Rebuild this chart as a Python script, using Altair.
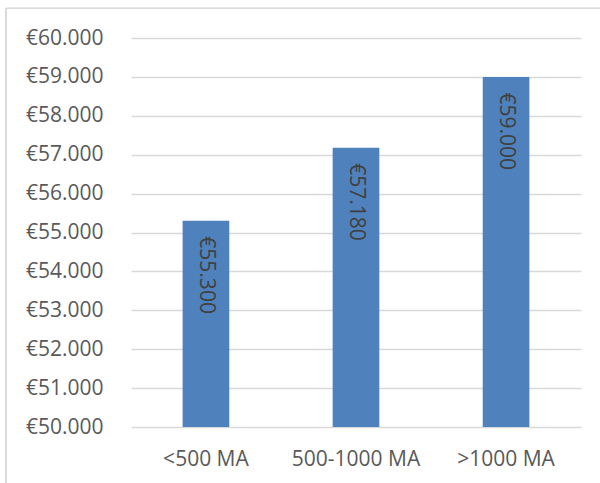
import altair as alt
import pandas as pd

# Average salary per company size
categories = ["<500 MA", "500-1000 MA", ">1000 MA"]
salaries = [55300, 57180, 59000]
y_ticks = [50000, 51000, 52000, 53000, 54000, 55000, 56000, 57000, 58000, 59000, 60000]

df = pd.DataFrame({"Groesse": categories, "Gehalt": salaries})

FONT = "Open Sans"
BAR = "#4F81BD"
GRID = "#D9D9D9"

euro = "'€' + replace(format(datum.value, ',.0f'), ',', '.')"

x_enc = alt.X(
    "Groesse:N",
    sort=categories,
    scale=alt.Scale(paddingInner=0.689, paddingOuter=0.344),
    axis=alt.Axis(
        title=None, labelAngle=0, ticks=False, tickSize=0, domain=False,
        grid=False, labelPadding=21, labelFont=FONT, labelFontSize=21,
        labelColor="#595959",
    ),
)
y_enc = alt.Y(
    "Gehalt:Q",
    scale=alt.Scale(domain=[50000, 60000], nice=False, zero=False),
    axis=alt.Axis(
        title=None, values=y_ticks, labelExpr=euro, ticks=False, tickSize=0,
        domain=False, grid=True, gridColor=GRID, gridWidth=1.3,
        labelOverlap=False, labelPadding=28, labelFont=FONT,
        labelFontSize=21, labelColor="#595959",
    ),
)

base = alt.Chart(df).encode(x=x_enc, y=y_enc)

bars = base.mark_bar(color=BAR).encode(y2=alt.datum(50000))

labels = base.transform_calculate(
    txt="'€' + replace(format(datum.Gehalt, ',.0f'), ',', '.')"
).mark_text(
    angle=90, align="left", baseline="middle", dx=15.5,
    font=FONT, fontSize=21, color="#404040",
).encode(text="txt:N")

# Outer chart frame (top and left edges)
frame_top = alt.Chart(df).mark_rule(color=GRID, strokeWidth=1.3).encode(
    x=alt.value(-125), x2=alt.value(480), y=alt.value(-29.7)
)
frame_left = alt.Chart(df).mark_rule(color=GRID, strokeWidth=1.3).encode(
    x=alt.value(-125), y=alt.value(-29.7), y2=alt.value(460)
)

chart = alt.layer(bars, labels, frame_top, frame_left).properties(
    width=450,
    height=389,
    background="white",
    autosize=alt.AutoSizeParams(type="none"),
    padding={"left": 131, "top": 38, "right": 19, "bottom": 56},
).configure_view(stroke=None)

chart.save("out.html", embed_options={"renderer": "svg", "actions": False})
